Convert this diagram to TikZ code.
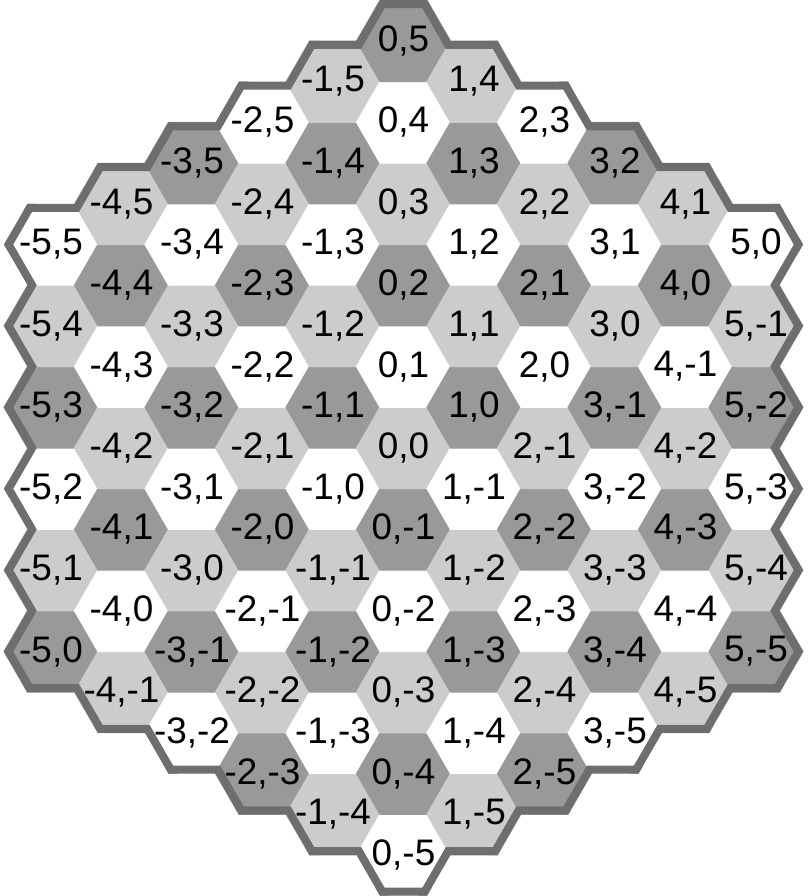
\documentclass[tikz,border=0pt]{standalone}
\usepackage{fontspec}
\setmainfont{Liberation Sans}
\definecolor{hexlight}{RGB}{204,204,204}
\definecolor{hexdark}{RGB}{153,153,153}
\definecolor{hexrim}{RGB}{110,110,110}
\newcommand\hexr{0.47}
\newcommand\hexagon[2]{({1.5*\hexr*(#1)},{sqrt(3)*\hexr*((#2)+0.5*(#1))})
  +(0:\hexr) -- +(60:\hexr) -- +(120:\hexr) -- +(180:\hexr) -- +(240:\hexr) -- +(300:\hexr) -- cycle}
\tikzset{
  shade0/.style={fill=hexlight, draw=hexlight, line width=0.3pt},
  shade1/.style={fill=white, draw=white, line width=0.3pt},
  shade2/.style={fill=hexdark, draw=hexdark, line width=0.3pt},
  coordlbl/.style={font=\fontsize{10.5}{12}\selectfont, inner sep=1pt},
  rim/.style={draw=hexrim, line width=1.6mm}
}
\begin{document}
\begin{tikzpicture}
  \useasboundingbox (-4.035,-4.48) rectangle (4.045,4.48);
  % cells
  \foreach \q [evaluate=\q as \rlo using int(-5-(\q<0)*(\q)),
               evaluate=\q as \rhi using int(5-(\q>0)*(\q))] in {-5,...,5}
    \foreach \r in {\rlo,...,\rhi} {
      \pgfmathtruncatemacro\tone{mod((\r)-(\q)+15,3)}
      \path[shade\tone] \hexagon{\q}{\r};
      \node[coordlbl] (h\q\r) at ({1.5*\hexr*(\q)},{sqrt(3)*\hexr*((\r)+0.5*(\q))}) {\q,\r};
    }
  % outer rim
  \begin{scope}
    \clip \foreach \q [evaluate=\q as \rlo using int(-5-(\q<0)*(\q)),
                       evaluate=\q as \rhi using int(5-(\q>0)*(\q))] in {-5,...,5} {
      \foreach \r in {\rlo,...,\rhi} { \hexagon{\q}{\r} }
    };
    \foreach \q in {-6,...,6}
      \foreach \r in {-6,...,6} {
        \pgfmathtruncatemacro\hexdist{max(abs(\q),abs(\r),abs((\q)+(\r)))}
        \ifnum\hexdist=6 \draw[rim] \hexagon{\q}{\r}; \fi
      }
  \end{scope}
\end{tikzpicture}
\end{document}
